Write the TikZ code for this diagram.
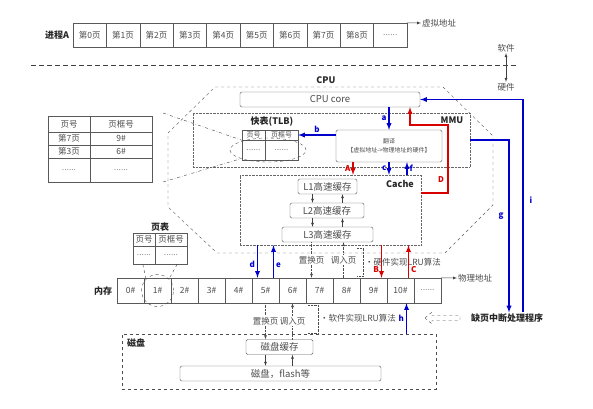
\documentclass[tikz,border=0pt]{standalone}
\usepackage{fontspec}
\setmainfont{Noto Sans CJK SC}
\usetikzlibrary{shapes.geometric}

\begin{document}
\begin{tikzpicture}[x=1pt,y=-1pt,>=latex,
  cell/.style={draw=black!65, inner sep=0pt, text=black!70, font=\fontsize{8.5}{9}\selectfont},
  box/.style={cell, rounded corners=1.5pt, font=\fontsize{9.5}{10}\selectfont},
  dotbox/.style={draw=black!60, densely dotted, inner sep=0pt},
  title/.style={font=\bfseries\fontsize{9}{10}\selectfont, text=black!85, inner sep=1pt},
  note/.style={font=\fontsize{8.5}{9}\selectfont, text=black!70, inner sep=1pt},
  blab/.style={font=\bfseries\fontsize{8}{9}\selectfont, text=blue!80!black, inner sep=2pt},
  rlab/.style={font=\bfseries\fontsize{8}{9}\selectfont, text=red!85!black, inner sep=2pt},
  barrow/.style={->, line width=1.3pt, draw=blue!80!black},
  rarrow/.style={->, line width=1.3pt, draw=red!85!black},
  sarrow/.style={->, draw=black!75},
  darrow/.style={->, densely dotted, draw=black!70}]
  \useasboundingbox (0,0) rectangle (593,408);

  % virtual pages of process A
  \node[title] (proc) at (57,35) {进程A};
  \foreach \i in {0,...,8}
    \node[cell, minimum width=33.4pt, minimum height=24pt] (p\i) at (89.7+33.4*\i,35) {第\i 页};
  \node[cell, minimum width=33.4pt, minimum height=24pt, text=black!45] (p9) at (390.3,35) {......};
  \node[note, anchor=west] (vaddr) at (421,23) {虚拟地址};
  \draw[sarrow] (p9.north east) -- (vaddr.west);

  % software / hardware
  \draw[dash pattern=on 5pt off 3pt, line width=0.8pt, black!75] (31,65) -- (517,65);
  \node[note] (soft) at (506,48) {软件};
  \node[note] (hard) at (506,87) {硬件};
  \draw[sarrow, <->] (soft) -- (hard);

  % CPU
  \draw[dashed, black!65] (215,87) -- (443,87) -- (493,136) -- (493,205) -- (445,253)
    -- (217,253) -- (168,207) -- (168,133) -- cycle;
  \node[title] (cpul) at (326,80) {CPU};
  \node[box, minimum width=180pt, minimum height=15pt] (cpu) at (330,99.5) {CPU core};

  % MMU
  \node[dotbox, minimum width=277pt, minimum height=54pt] (mmu) at (331.5,140) {};
  \node[title] (mmul) at (452,120) {MMU};
  \node[box, minimum width=106pt, minimum height=32pt, align=center,
        font=\fontsize{6}{9}\selectfont] (trans) at (389,146) {翻译\\【虚拟地址->物理地址的硬件】};

  % TLB
  \node[title] (tlbl) at (272,122) {快表(TLB)};
  \node[cell, minimum width=23pt, minimum height=10pt, font=\fontsize{7}{7}\selectfont] (t1) at (253.5,135) {页号};
  \node[cell, minimum width=33pt, minimum height=10pt, font=\fontsize{7}{7}\selectfont] (t2) at (281.5,135) {页框号};
  \node[cell, minimum width=23pt, minimum height=20pt, text=black!45] (t3) at (253.5,150) {......};
  \node[cell, minimum width=33pt, minimum height=20pt, text=black!45] (t4) at (281.5,150) {......};
  \node[ellipse, draw=black!70, dashed, minimum width=76pt, minimum height=24pt] (tlbring) at (268,150) {};

  % TLB contents
  \node[cell, minimum width=42pt, minimum height=16pt] (ta1) at (69,124) {页号};
  \node[cell, minimum width=62pt, minimum height=16pt] (tb1) at (121,124) {页框号};
  \node[cell, minimum width=42pt, minimum height=13pt] (ta2) at (69,138.5) {第7页};
  \node[cell, minimum width=62pt, minimum height=13pt] (tb2) at (121,138.5) {9\#};
  \node[cell, minimum width=42pt, minimum height=13pt] (ta3) at (69,151.5) {第3页};
  \node[cell, minimum width=62pt, minimum height=13pt] (tb3) at (121,151.5) {6\#};
  \node[cell, minimum width=42pt, minimum height=24pt, text=black!45] (ta4) at (69,170) {......};
  \node[cell, minimum width=62pt, minimum height=24pt, text=black!45] (tb4) at (121,170) {......};
  \coordinate (zoomtop) at (163,113);
  \coordinate (zoombot) at (163,182);
  \draw[dash dot, black!75] (zoomtop) -- (t1.south west);
  \draw[dash dot, black!75] (zoombot) -- (tlbring.south west);

  % cache
  \node[dotbox, minimum width=181pt, minimum height=70pt] (cache) at (330.5,210) {};
  \node[title] (cachel) at (400,184) {Cache};
  \node[box, minimum width=59pt, minimum height=15pt] (L1) at (327.5,186.5) {L1高速缓存};
  \node[box, minimum width=74pt, minimum height=15pt] (L2) at (327,210.5) {L2高速缓存};
  \node[box, minimum width=91pt, minimum height=15pt] (L3) at (327.5,234.5) {L3高速缓存};
  \draw[sarrow] ([xshift=-15pt]L1.south) -- ([xshift=-15pt]L1.south |- L2.north);
  \draw[sarrow] ([xshift=15pt]L1.south |- L2.north) -- ([xshift=15pt]L1.south);
  \draw[sarrow] ([xshift=-15pt]L1.south |- L2.south) -- ([xshift=-15pt]L1.south |- L3.north);
  \draw[sarrow] ([xshift=15pt]L1.south |- L3.north) -- ([xshift=15pt]L1.south |- L2.south);

  % physical memory
  \node[title] (meml) at (103,291) {内存};
  \foreach \i in {0,...,10}
    \node[cell, minimum width=27pt, minimum height=25pt] (m\i) at (130.5+27*\i,290.5) {\i\#};
  \node[cell, minimum width=27pt, minimum height=25pt, text=black!45] (m11) at (427.5,290.5) {......};
  \node[note, anchor=west] (paddr) at (457,278) {物理地址};
  \draw[sarrow] (m11.north east) -- (paddr.west);
  \node[circle, draw=black!70, dashed, minimum size=32pt] (ring) at (m1) {};

  % page table
  \node[title] (ptl) at (160,227) {页表};
  \node[cell, minimum width=22pt, minimum height=13pt] (pa1) at (144,239.5) {页号};
  \node[cell, minimum width=32pt, minimum height=13pt] (pb1) at (171,239.5) {页框号};
  \node[cell, minimum width=22pt, minimum height=18pt, text=black!45] (pa2) at (144,255) {......};
  \node[cell, minimum width=32pt, minimum height=18pt, text=black!45] (pb2) at (171,255) {......};
  \draw[dashed, black!75] ([xshift=10pt]pa2.south west) -- (ring.north west);
  \draw[dashed, black!75] ([xshift=-10pt]pb2.south east) -- (ring.north east);

  % cache <-> memory
  \draw[darrow] ([xshift=-8pt]m7.north |- L3.south) -- ([xshift=-8pt]m7.north)
    node[note, midway, fill=white] {置换页};
  \draw[darrow] ([xshift=-3pt]m8.north) -- ([xshift=-3pt]m8.north |- L3.south)
    node[note, midway, fill=white] {调入页};
  \draw[densely dotted, black!70] (357,248) -| (363,276) -- (357,276);
  \node[note, anchor=west] (hwlru) at (364,262) {·硬件实现LRU算法};
  \draw[barrow] ([xshift=-8pt]m5.north |- cache.south) -- ([xshift=-8pt]m5.north) node[blab, pos=0.6, left] {d};
  \draw[barrow] ([xshift=8pt]m5.north) -- ([xshift=8pt]m5.north |- cache.south) node[blab, pos=0.4, right] {e};
  \draw[rarrow] ([xshift=8pt]m9.north |- cache.south) -- ([xshift=8pt]m9.north) node[rlab, pos=0.75, left] {B};
  \draw[rarrow] ([xshift=8pt]m10.north) -- ([xshift=8pt]m10.north |- cache.south) node[rlab, pos=0.25, right] {C};

  % MMU arrows
  \draw[barrow] (cpu.south -| trans) -- (trans.north) node[blab, midway, left] {a};
  \draw[barrow] (trans.west |- t2) -- (t2.east) node[blab, midway, above] {b};
  \draw[barrow] (trans.south) -- (trans.south |- cache.north) node[blab, midway, left] {c};
  \draw[barrow] ([xshift=18pt]trans.south |- cache.north) -- ([xshift=18pt]trans.south) node[blab, midway, right] {f};
  \draw[rarrow] ([xshift=-36pt]trans.south) -- ([xshift=-36pt]trans.south |- cache.north) node[rlab, midway, left] {A};
  \draw[rarrow] ([yshift=17pt]cache.east) -| (448,125) -| ([xshift=80pt]cpu.south);
  \node[rlab] (dlab) at (441,180) {D};

  % page fault handler
  \node[title] (handler) at (507,318) {缺页中断处理程序};
  \draw[barrow] (mmu.east) -| ([xshift=2pt]handler.north);
  \draw[barrow] ([xshift=16pt]handler.north) |- (cpu.east);
  \node[blab] (glab) at (501,216) {g};
  \node[blab] (ilab) at (531,200) {i};
  \draw[dashed, black!70] (425,318) -- (432,312) -- (432,315.5) -- (460,315.5) -- (460,320.5)
    -- (432,320.5) -- (432,324) -- cycle;

  % disk
  \node[draw=black!70, dashed, minimum width=314pt, minimum height=55pt] (diskbox) at (279,361.5) {};
  \node[title] (diskl) at (136,343) {磁盘};
  \node[box, minimum width=67pt, minimum height=15pt] (dcache) at (279.5,347) {磁盘缓存};
  \node[box, minimum width=201pt, minimum height=15pt] (disk) at (280.5,373.5) {磁盘，flash等};
  \draw[sarrow] ([xshift=-14pt]dcache.south) -- ([xshift=-14pt]dcache.south |- disk.north);
  \draw[sarrow] ([xshift=13pt]dcache.south |- disk.north) -- ([xshift=13pt]dcache.south);
  \draw[darrow] (m5.south) -- (m5.south |- dcache.north) node[note, midway, fill=white] {置换页};
  \draw[darrow] (m6.south |- dcache.north) -- (m6.south) node[note, midway, fill=white] {调入页};
  \draw[densely dotted, black!70] (308,305) -| (318,333) -- (308,333);
  \node[note, anchor=west] (swlru) at (319,318) {·软件实现LRU算法};
  \draw[barrow] ([xshift=6pt]m10.south |- diskbox.north) -- ([xshift=6pt]m10.south) node[blab, midway, left] {h};
\end{tikzpicture}
\end{document}
